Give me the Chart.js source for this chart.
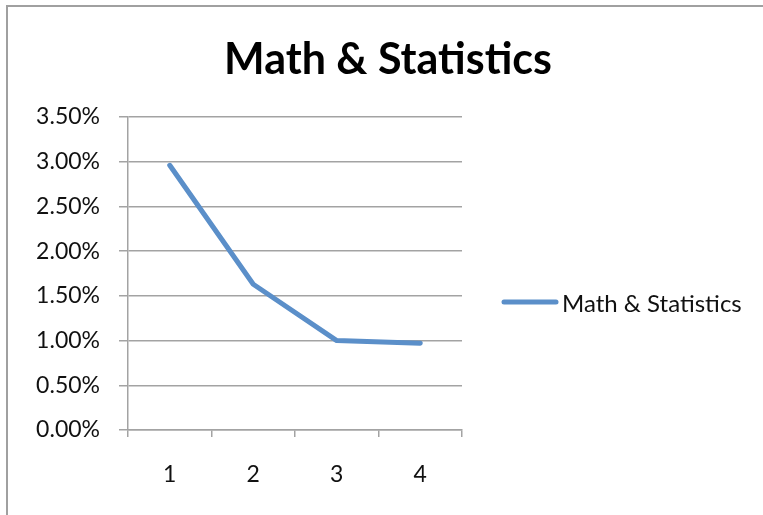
<!DOCTYPE html>
<html>
<head>
<meta charset="utf-8">
<script src="https://cdn.jsdelivr.net/npm/chart.js@4/dist/chart.umd.min.js"></script>
<style>
    html, body { margin: 0; padding: 0; background: #fff; }
    #wrap { width: 763px; height: 515px; position: relative; }
</style>
</head>
<body>
<div id="wrap"><canvas id="mathChart" width="763" height="515"></canvas></div>
<script>
var categories = ['1', '2', '3', '4'];
var seriesName = 'Math & Statistics';
var shareValues = [0.0296, 0.0163, 0.0100, 0.0097];
var yMin = 0;
var yMax = 0.035;
var yStep = 0.005;

var lineColor = '#5b8fc9';
var gridColor = '#a3a3a3';
var fontFamily = 'Lato, "Open Sans", sans-serif';

// outer frame (only top + left edges show) and the chart title
var framePlugin = {
    id: 'frame',
    beforeDraw: function(chart) {
        var ctx = chart.ctx;
        ctx.save();
        ctx.fillStyle = '#fff';
        ctx.fillRect(0, 0, chart.width, chart.height);
        ctx.strokeStyle = '#a0a0a0';
        ctx.lineWidth = 2;
        ctx.beginPath();
        ctx.moveTo(7, chart.height);
        ctx.lineTo(7, 6);
        ctx.lineTo(chart.width, 6);
        ctx.stroke();

        ctx.fillStyle = '#000';
        ctx.font = 'bold 43px ' + fontFamily;
        ctx.textAlign = 'center';
        ctx.textBaseline = 'alphabetic';
        ctx.fillText(seriesName, 388, 74);
        ctx.restore();
    }
};

// legend on the right, line sample + text
var sideLegend = {
    id: 'sideLegend',
    afterDraw: function(chart) {
        var ctx = chart.ctx;
        var y = 302;
        ctx.save();
        ctx.strokeStyle = lineColor;
        ctx.lineWidth = 5;
        ctx.lineCap = 'round';
        ctx.beginPath();
        ctx.moveTo(504, y);
        ctx.lineTo(556, y);
        ctx.stroke();
        ctx.fillStyle = '#111';
        ctx.font = '24px ' + fontFamily;
        ctx.textBaseline = 'alphabetic';
        ctx.fillText(chart.data.datasets[0].label, 562, 312);
        ctx.restore();
    }
};

var ctx = document.getElementById('mathChart');
var myChart = new Chart(ctx, {
    type: 'line',
    data: {
        labels: categories,
        datasets: [{
            label: seriesName,
            data: shareValues,
            borderColor: lineColor,
            backgroundColor: lineColor,
            borderWidth: 5,
            borderCapStyle: 'round',
            borderJoinStyle: 'round',
            pointRadius: 0,
            tension: 0,
            fill: false
        }]
    },
    options: {
        responsive: false,
        animation: false,
        layout: {
            padding: { left: 0, right: 301, top: 117, bottom: 0 }
        },
        plugins: {
            legend: { display: false },
            tooltip: { enabled: false },
            title: { display: false }
        },
        scales: {
            x: {
                offset: true,
                grid: {
                    offset: true,
                    drawOnChartArea: false,
                    drawTicks: true,
                    tickLength: 7,
                    color: gridColor,
                    lineWidth: 1.5
                },
                border: { color: gridColor, width: 1.5 },
                ticks: {
                    color: '#111',
                    font: { family: fontFamily, size: 23 },
                    padding: 24,
                    maxRotation: 0
                },
                afterFit: function(scale) { scale.height = 85; }
            },
            y: {
                min: yMin,
                max: yMax,
                grid: {
                    color: gridColor,
                    lineWidth: 1.5,
                    tickLength: 9
                },
                border: { color: gridColor, width: 1.5 },
                ticks: {
                    stepSize: yStep,
                    color: '#111',
                    font: { family: fontFamily, size: 23 },
                    padding: 19,
                    callback: function(value) {
                        return (value * 100).toFixed(2) + '%';
                    }
                },
                afterFit: function(scale) { scale.width = 128; }
            }
        }
    },
    plugins: [framePlugin, sideLegend]
});
</script>
</body>
</html>
